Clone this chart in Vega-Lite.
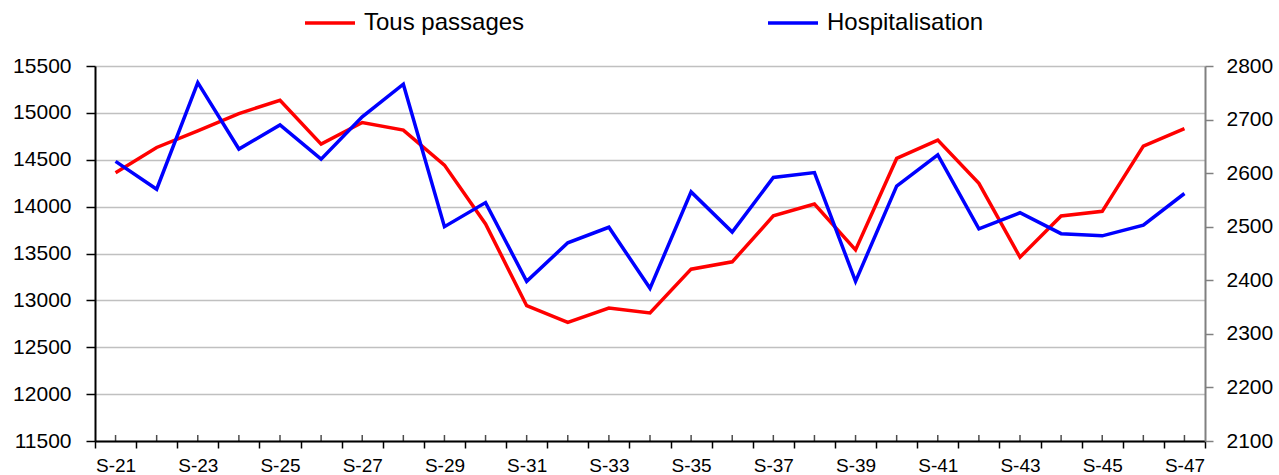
{
  "$schema": "https://vega.github.io/schema/vega-lite/v6.json",
  "width": 1110,
  "height": 375,
  "autosize": "none",
  "padding": {"left": 95, "top": 66, "right": 74, "bottom": 34},
  "background": "white",
  "config": {
    "view": {"stroke": null},
    "font": "Liberation Sans"
  },
  "data": {
    "values": [
      {"week": "S-21", "tous": 14362, "hosp": 2622},
      {"week": "S-22", "tous": 14631, "hosp": 2570},
      {"week": "S-23", "tous": 14809, "hosp": 2769},
      {"week": "S-24", "tous": 14993, "hosp": 2645},
      {"week": "S-25", "tous": 15135, "hosp": 2690},
      {"week": "S-26", "tous": 14667, "hosp": 2626},
      {"week": "S-27", "tous": 14897, "hosp": 2705},
      {"week": "S-28", "tous": 14816, "hosp": 2766},
      {"week": "S-29", "tous": 14443, "hosp": 2500},
      {"week": "S-30", "tous": 13816, "hosp": 2545},
      {"week": "S-31", "tous": 12943, "hosp": 2398},
      {"week": "S-32", "tous": 12766, "hosp": 2470},
      {"week": "S-33", "tous": 12918, "hosp": 2499},
      {"week": "S-34", "tous": 12865, "hosp": 2385},
      {"week": "S-35", "tous": 13333, "hosp": 2565},
      {"week": "S-36", "tous": 13411, "hosp": 2490},
      {"week": "S-37", "tous": 13901, "hosp": 2592},
      {"week": "S-38", "tous": 14028, "hosp": 2601},
      {"week": "S-39", "tous": 13539, "hosp": 2398},
      {"week": "S-40", "tous": 14514, "hosp": 2576},
      {"week": "S-41", "tous": 14709, "hosp": 2634},
      {"week": "S-42", "tous": 14248, "hosp": 2496},
      {"week": "S-43", "tous": 13461, "hosp": 2526},
      {"week": "S-44", "tous": 13901, "hosp": 2487},
      {"week": "S-45", "tous": 13950, "hosp": 2483},
      {"week": "S-46", "tous": 14645, "hosp": 2503},
      {"week": "S-47", "tous": 14833, "hosp": 2562}
    ]
  },
  "encoding": {
    "x": {
      "field": "week", "type": "ordinal", "sort": null,
      "scale": {"type": "band", "paddingInner": 0, "paddingOuter": 0},
      "axis": {
        "title": null, "orient": "bottom", "tickBand": "extent",
        "tickSize": 7, "tickColor": "#000000", "tickWidth": 1.5,
        "domainColor": "#000000", "domainWidth": 2,
        "labelAngle": 0, "labelFontSize": 19, "labelPadding": 8,
        "labelColor": "#000000",
        "labelExpr": "indexof(['S-21','S-23','S-25','S-27','S-29','S-31','S-33','S-35','S-37','S-39','S-41','S-43','S-45','S-47'], datum.label) >= 0 ? datum.label : ''",
        "grid": false
      }
    }
  },
  "layer": [
    {
      "mark": {"type": "tick", "orient": "vertical", "color": "#000000", "thickness": 1.5, "size": 6, "yOffset": -3},
      "encoding": {
        "y": {"datum": 11500, "type": "quantitative", "scale": {"domain": [11500, 15500], "nice": false, "zero": false}, "axis": null}
      }
    },
    {
      "mark": {"type": "line", "strokeWidth": 3.5},
      "encoding": {
        "y": {
          "field": "tous", "type": "quantitative",
          "scale": {"domain": [11500, 15500], "nice": false, "zero": false},
          "axis": {
            "title": null, "orient": "left",
            "values": [11500, 12000, 12500, 13000, 13500, 14000, 14500, 15000, 15500],
            "format": "d",
            "grid": true, "gridColor": "#c0c0c0", "gridWidth": 1.5,
            "tickSize": 9, "tickColor": "#000000", "tickWidth": 1.5,
            "domainColor": "#000000", "domainWidth": 2,
            "labelFontSize": 21, "labelPadding": 15,
            "labelColor": "#000000"
          }
        },
        "color": {
          "datum": "Tous passages", "type": "nominal",
          "scale": {"domain": ["Tous passages", "Hospitalisation"], "range": ["#ff0000", "#0000ff"]},
          "legend": {
            "title": null, "orient": "none", "direction": "horizontal", "columns": 2,
            "legendX": 208, "legendY": -70, "padding": 0,
            "symbolType": "stroke", "symbolSize": 2500, "symbolStrokeWidth": 3.5,
            "labelFontSize": 24, "labelOffset": 7, "columnPadding": 236, "labelLimit": 0,
            "labelColor": "#000000"
          }
        }
      }
    },
    {
      "mark": {"type": "line", "strokeWidth": 3.5},
      "encoding": {
        "y": {
          "field": "hosp", "type": "quantitative",
          "scale": {"domain": [2100, 2800], "nice": false, "zero": false},
          "axis": {
            "title": null, "orient": "right",
            "values": [2100, 2200, 2300, 2400, 2500, 2600, 2700, 2800],
            "format": "d",
            "grid": false,
            "tickSize": 8, "tickColor": "#808080", "tickWidth": 1.5,
            "domainColor": "#808080", "domainWidth": 2,
            "labelFontSize": 21, "labelPadding": 13,
            "labelColor": "#000000"
          }
        },
        "color": {"datum": "Hospitalisation", "type": "nominal"}
      }
    }
  ],
  "resolve": {"scale": {"y": "independent"}}
}
